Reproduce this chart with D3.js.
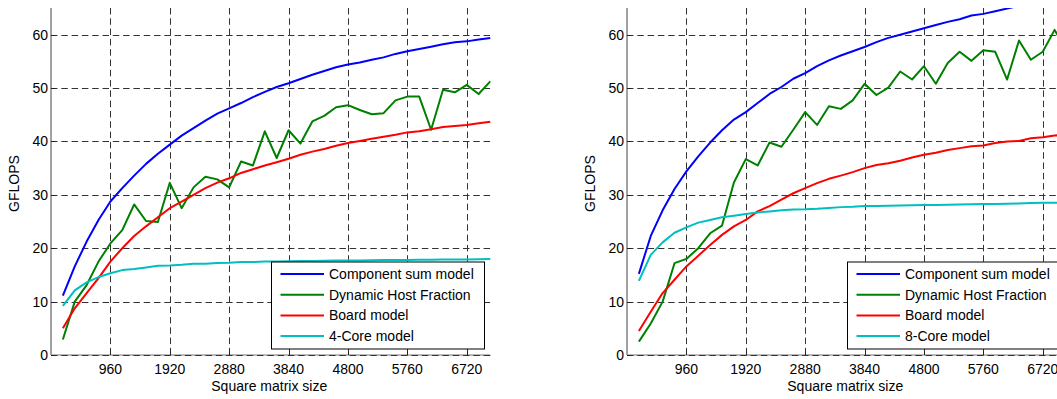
<!DOCTYPE html>
<html>
<head>
<meta charset="utf-8">
<script src="https://cdn.jsdelivr.net/npm/d3@7"></script>
<style>
  html, body { margin: 0; padding: 0; background: #fff; overflow: hidden; }
  svg { display: block; font-family: "Liberation Sans", Arial, Helvetica, sans-serif; }
</style>
</head>
<body>
<div id="chart"></div>
<script>
// matrix sizes (x values)
const sizes = [192, 384, 576, 768, 960, 1152, 1344, 1536, 1728, 1920, 2112, 2304, 2496,
  2688, 2880, 3072, 3264, 3456, 3648, 3840, 4032, 4224, 4416, 4608, 4800, 4992, 5184,
  5376, 5568, 5760, 5952, 6144, 6336, 6528, 6720, 6912, 7104];

const xTicks = [960, 1920, 2880, 3840, 4800, 5760, 6720];
const yTicks = [0, 10, 20, 30, 40, 50, 60];

const seriesNames = ['Component sum model', 'Dynamic Host Fraction', 'Board model'];

// left panel (4 cores)
const leftComponent = [11.1, 16.6, 21.25, 25.3, 28.75, 31.25, 33.6, 35.8, 37.7, 39.4, 41.1, 42.5, 43.9,
  45.2, 46.2, 47.2, 48.3, 49.3, 50.2, 50.9, 51.7, 52.5, 53.2, 53.9, 54.4, 54.8, 55.3,
  55.75, 56.4, 56.9, 57.3, 57.75, 58.2, 58.6, 58.75, 59.1, 59.4];
const leftDynamic = [2.9, 10.0, 13.1, 17.5, 20.9, 23.4, 28.2, 25.1, 24.9, 32.25, 27.5, 31.4, 33.4,
  32.9, 31.4, 36.25, 35.5, 41.9, 36.9, 42.1, 39.6, 43.75, 44.8, 46.4, 46.8, 45.9, 45.1,
  45.3, 47.7, 48.4, 48.4, 42.2, 49.7, 49.2, 50.6, 48.9, 51.3];
const leftBoard = [5.0, 8.75, 11.6, 14.4, 17.5, 20.0, 22.3, 24.1, 25.8, 27.5, 28.75, 30.0, 31.25,
  32.3, 33.1, 34.1, 34.8, 35.5, 36.1, 36.75, 37.5, 38.1, 38.6, 39.2, 39.7, 40.1, 40.5,
  40.9, 41.25, 41.7, 41.9, 42.3, 42.7, 42.9, 43.1, 43.4, 43.7];
const leftCore = [9.2, 12.1, 13.6, 14.6, 15.3, 15.9, 16.1, 16.4, 16.7, 16.75, 16.9, 17.1, 17.1,
  17.25, 17.3, 17.4, 17.4, 17.5, 17.5, 17.55, 17.6, 17.6, 17.65, 17.7, 17.7, 17.7, 17.75,
  17.8, 17.8, 17.8, 17.85, 17.85, 17.9, 17.9, 17.9, 17.95, 18.0];

// right panel (8 cores)
const rightComponent = [15.2, 22.3, 27.1, 31.1, 34.4, 37.2, 39.8, 42.1, 44.1, 45.5, 47.2, 48.9, 50.2,
  51.75, 52.8, 54.1, 55.2, 56.1, 56.9, 57.7, 58.6, 59.4, 60.0, 60.6, 61.2, 61.8, 62.4,
  62.9, 63.6, 63.9, 64.4, 64.9, 65.4, 65.9, 66.3, 66.8, 67.2];
const rightDynamic = [2.5, 5.9, 10.0, 17.2, 18.0, 20.0, 22.8, 24.25, 32.3, 36.7, 35.5, 39.8, 39.0,
  42.2, 45.5, 43.1, 46.6, 46.1, 47.7, 50.8, 48.7, 50.1, 53.1, 51.6, 54.1, 50.8, 54.7,
  56.8, 55.1, 57.1, 56.8, 51.6, 58.9, 55.3, 56.8, 60.9, 57.0];
const rightBoard = [4.5, 8.1, 11.6, 14.1, 16.6, 18.6, 20.6, 22.5, 24.1, 25.3, 26.9, 27.9, 29.1,
  30.3, 31.25, 32.2, 33.0, 33.6, 34.25, 35.0, 35.6, 35.9, 36.4, 37.0, 37.5, 37.9, 38.4,
  38.75, 39.1, 39.25, 39.7, 40.0, 40.1, 40.6, 40.8, 41.1, 41.3];
const rightCore = [13.9, 18.75, 21.1, 22.9, 23.9, 24.8, 25.3, 25.8, 26.1, 26.4, 26.7, 26.9, 27.1,
  27.25, 27.3, 27.4, 27.55, 27.7, 27.75, 27.9, 27.9, 27.95, 28.0, 28.05, 28.1, 28.1, 28.15,
  28.2, 28.25, 28.3, 28.3, 28.35, 28.4, 28.45, 28.5, 28.5, 28.55];

const colors = ['#0000ff', '#008000', '#ff0000', '#00bfbf'];

const W = 1057, H = 399;
const plotTop = 8, plotBottom = 355, plotW = 439.5;

const svg = d3.select('#chart')
  .append('svg')
  .attr('width', W)
  .attr('height', H);

function drawPanel(left, data, coreLabel, id) {
  const x = d3.scaleLinear().domain([0, 7104]).range([left, left + plotW]);
  const y = d3.scaleLinear().domain([0, 65]).range([plotBottom, plotTop]);

  const g = svg.append('g');

  g.append('clipPath').attr('id', id)
    .append('rect')
    .attr('x', x(0)).attr('y', y(65))
    .attr('width', plotW).attr('height', plotBottom - plotTop);

  // axis lines (box off)
  g.append('line')
    .attr('x1', x(0)).attr('x2', x(0))
    .attr('y1', plotTop).attr('y2', plotBottom)
    .attr('stroke', '#444');
  g.append('line')
    .attr('x1', x(0)).attr('x2', x(0) + plotW)
    .attr('y1', plotBottom).attr('y2', plotBottom)
    .attr('stroke', '#777');

  // dashed grid
  g.selectAll('.vgrid')
    .data(xTicks)
    .enter()
    .append('line')
    .attr('x1', d => Math.round(x(d)) + 0.5)
    .attr('x2', d => Math.round(x(d)) + 0.5)
    .attr('y1', plotTop)
    .attr('y2', plotBottom)
    .attr('stroke', '#333')
    .attr('stroke-dasharray', '6.5,3.8');
  g.selectAll('.hgrid')
    .data(yTicks)
    .enter()
    .append('line')
    .attr('x1', x(0))
    .attr('x2', x(0) + plotW)
    .attr('y1', d => Math.round(y(d)) + 0.5)
    .attr('y2', d => Math.round(y(d)) + 0.5)
    .attr('stroke', '#333')
    .attr('stroke-dasharray', '6.5,3.8');

  // inward ticks
  g.selectAll('.xt')
    .data(xTicks)
    .enter()
    .append('line')
    .attr('x1', d => Math.round(x(d)) + 0.5)
    .attr('x2', d => Math.round(x(d)) + 0.5)
    .attr('y1', plotBottom)
    .attr('y2', plotBottom - 4.5)
    .attr('stroke', '#222');
  g.selectAll('.yt')
    .data(yTicks)
    .enter()
    .append('line')
    .attr('x1', x(0))
    .attr('x2', x(0) + 4.5)
    .attr('y1', d => Math.round(y(d)) + 0.5)
    .attr('y2', d => Math.round(y(d)) + 0.5)
    .attr('stroke', '#222');

  // tick labels
  g.selectAll('.xl')
    .data(xTicks)
    .enter()
    .append('text')
    .attr('x', d => x(d))
    .attr('y', plotBottom + 18.5)
    .attr('text-anchor', 'middle')
    .attr('font-size', 14)
    .text(d => d);
  g.selectAll('.yl')
    .data(yTicks)
    .enter()
    .append('text')
    .attr('x', x(0) - 3)
    .attr('y', d => y(d) + 5)
    .attr('text-anchor', 'end')
    .attr('font-size', 14)
    .text(d => d);

  // axis titles
  g.append('text')
    .attr('x', x(0) + plotW / 2 - 1.5)
    .attr('y', 391)
    .attr('text-anchor', 'middle')
    .attr('font-size', 14)
    .text('Square matrix size');
  g.append('text')
    .attr('transform', `translate(${x(0) - 32},${(plotTop + plotBottom) / 2 + 2}) rotate(-90)`)
    .attr('text-anchor', 'middle')
    .attr('font-size', 14)
    .text('GFLOPS');

  // lines
  const line = d3.line()
    .x((d, i) => x(sizes[i]))
    .y(d => y(d));

  g.append('g')
    .attr('clip-path', `url(#${id})`)
    .selectAll('path')
    .data(data)
    .enter()
    .append('path')
    .attr('d', d => line(d))
    .attr('fill', 'none')
    .attr('stroke', (d, i) => colors[i])
    .attr('stroke-width', 2)
    .attr('stroke-linejoin', 'round');

  // legend
  const names = seriesNames.concat([coreLabel]);
  const lg = g.append('g').attr('transform', `translate(${x(0) + 220},261.5)`);
  lg.append('rect')
    .attr('x', 0.5).attr('y', 0.5)
    .attr('width', 213).attr('height', 87)
    .attr('fill', '#fff')
    .attr('stroke', '#000');
  names.forEach((n, i) => {
    const cy = 12.5 + i * 20.7;
    lg.append('line')
      .attr('x1', 9.5).attr('x2', 53)
      .attr('y1', cy).attr('y2', cy)
      .attr('stroke', colors[i])
      .attr('stroke-width', 2);
    lg.append('text')
      .attr('x', 58)
      .attr('y', cy + 5)
      .attr('font-size', 14)
      .text(n);
  });
}

drawPanel(51, [leftComponent, leftDynamic, leftBoard, leftCore], '4-Core model', 'clipL');
drawPanel(627, [rightComponent, rightDynamic, rightBoard, rightCore], '8-Core model', 'clipR');
</script>
</body>
</html>
